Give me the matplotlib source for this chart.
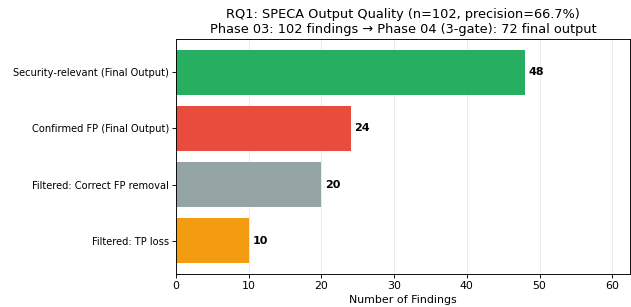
import matplotlib
matplotlib.use("Agg")
import matplotlib.pyplot as plt

# Donnees du graphique
categories = ["Filtered: TP loss", "Filtered: Correct FP removal",
              "Confirmed FP (Final Output)", "Security-relevant (Final Output)"]
counts = [10, 20, 24, 48]
colors = ["#f39c12", "#95a5a6", "#e74c3c", "#27ae60"]

plt.rcParams["axes.linewidth"] = 0.65
plt.rcParams["xtick.major.width"] = 0.65
plt.rcParams["ytick.major.width"] = 0.65
plt.rcParams["xtick.major.size"] = 2.6
plt.rcParams["ytick.major.size"] = 2.6
plt.rcParams["xtick.major.pad"] = 2.6
plt.rcParams["ytick.major.pad"] = 2.6

fig = plt.figure(figsize=(6.31, 3.07), dpi=100)
ax = fig.add_axes([0.279, 0.107, 0.719, 0.766])

bars = ax.barh(categories, counts, color=colors)
for b, v in zip(bars, counts):
    ax.text(b.get_width() + 0.5, b.get_y() + b.get_height() / 2, str(v),
            va="center", ha="left", fontsize=8, fontweight="bold")

ax.set_xlim(0, max(counts) * 1.3)
ax.set_xlabel("Number of Findings", fontsize=7.9, labelpad=2.5)
ax.set_title("RQ1: SPECA Output Quality (n=102, precision=66.7%)\n"
             "Phase 03: 102 findings \u2192 Phase 04 (3-gate): 72 final output",
             fontsize=9.3, pad=4)
ax.tick_params(axis="y", labelsize=7.1)
ax.tick_params(axis="x", labelsize=7.9)
ax.grid(axis="x", alpha=0.3, linewidth=0.6)
ax.set_axisbelow(True)

fig.savefig("out.png", dpi=100)
